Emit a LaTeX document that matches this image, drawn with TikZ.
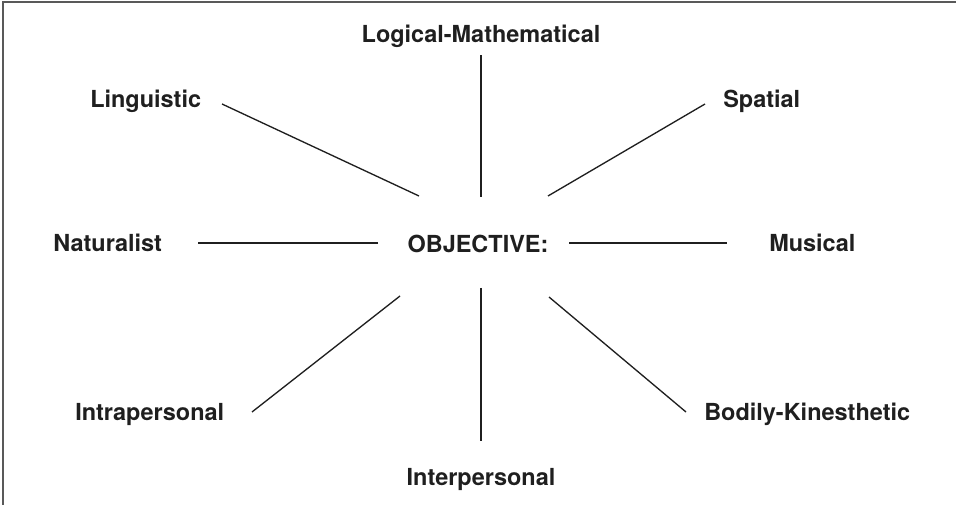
\documentclass[tikz,border=0pt]{standalone}
\usepackage{fontspec}
\setmainfont{TeX Gyre Heros}
\begin{document}
\begin{tikzpicture}[x=0.75pt,y=-0.75pt,
  lbl/.style={inner sep=0pt,font=\bfseries\fontsize{17.6pt}{19pt}\selectfont,text=black!88},
  spoke/.style={line width=1pt,draw=black!88},
  frameline/.style={line width=1pt,draw=black!65}]
\useasboundingbox (0,0) rectangle (956,505);
\draw[frameline] (3,505) -- (3,2) -- (956,2);
% labels (anchored at baseline)
\node[lbl,anchor=base] (logic) at (481,43) {Logical-Mathematical};
\node[lbl,anchor=base west] (ling) at (90,108) {Linguistic};
\node[lbl,anchor=base west] (spat) at (723,108) {Spatial};
\node[lbl,anchor=base west] (nat) at (53,252) {Naturalist};
\node[lbl,anchor=base] (obj) at (478,253) {OBJECTIVE:};
\node[lbl,anchor=base west] (mus) at (769,252) {Musical};
\node[lbl,anchor=base west] (intra) at (75,421) {Intrapersonal};
\node[lbl,anchor=base west] (body) at (704,421) {Bodily-Kinesthetic};
\node[lbl,anchor=base] (inter) at (481,485) {Interpersonal};
% spoke end points
\coordinate (c1) at (481,197); \coordinate (e1) at (481,55);
\coordinate (c2) at (419,196); \coordinate (e2) at (222,104);
\coordinate (c3) at (548,196); \coordinate (e3) at (705,104);
\coordinate (c4) at (378,243); \coordinate (e4) at (198,243);
\coordinate (c5) at (569,243); \coordinate (e5) at (727,243);
\coordinate (c6) at (400,296); \coordinate (e6) at (252,412);
\coordinate (c7) at (481,288); \coordinate (e7) at (481,441);
\coordinate (c8) at (549,297); \coordinate (e8) at (686,412);
\coordinate (d4a) at (307,243.8); \coordinate (d4b) at (360,243.8);
\coordinate (d5a) at (713,243.8); \coordinate (d5b) at (727,243.8);
\foreach \i in {1,...,8} {\draw[spoke] (c\i) -- (e\i);}
\draw[spoke] (d4a) -- (d4b);
\draw[spoke] (d5a) -- (d5b);
\end{tikzpicture}
\end{document}
